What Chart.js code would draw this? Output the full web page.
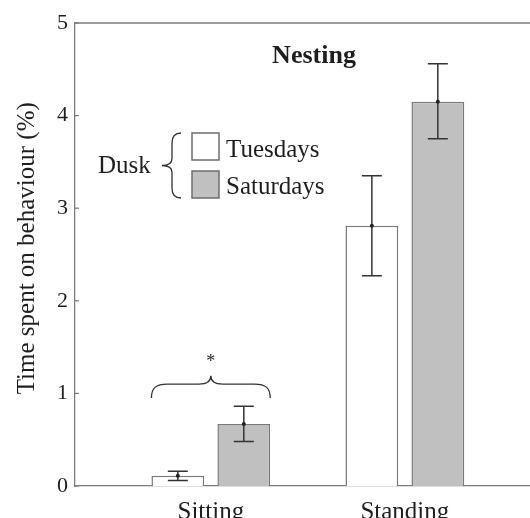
<!DOCTYPE html>
<html>
<head>
<meta charset="utf-8">
<script src="https://cdn.jsdelivr.net/npm/chart.js@4.4.1/dist/chart.umd.min.js"></script>
<style>
  html, body { margin: 0; padding: 0; background: #fff; overflow: hidden; }
  #chart { display: block; }
</style>
</head>
<body>
<canvas id="chart" width="530" height="518"></canvas>
<script>
// data
var categories = ['Sitting', 'Standing'];
var categoryPos = [1, 2];
var tuesdays = [0.11, 2.81];
var tuesdaysLo = [0.06, 2.27];
var tuesdaysHi = [0.16, 3.35];
var saturdays = [0.67, 4.15];
var saturdaysLo = [0.48, 3.75];
var saturdaysHi = [0.86, 4.56];
var yTicks = [0, 1, 2, 3, 4, 5];

var FONT = '"Liberation Serif", "Times New Roman", serif';
var AXIS_COLOR = '#7c7c7c';
var TEXT_COLOR = '#1e1e1e';

function toPoints(values) {
    return values.map(function (v, i) { return { x: categoryPos[i], y: v }; });
}

// error bars with caps and a dot at the mean
var errorBars = {
    id: 'errorBars',
    afterDatasetsDraw: function (chart) {
        var ctx = chart.ctx;
        var yScale = chart.scales.y;
        var ranges = [[tuesdaysLo, tuesdaysHi, tuesdays], [saturdaysLo, saturdaysHi, saturdays]];
        ctx.save();
        ctx.strokeStyle = '#333';
        ctx.fillStyle = '#222';
        ctx.lineWidth = 1.5;
        ranges.forEach(function (r, d) {
            var meta = chart.getDatasetMeta(d);
            meta.data.forEach(function (bar, i) {
                var x = bar.x;
                var yLo = yScale.getPixelForValue(r[0][i]);
                var yHi = yScale.getPixelForValue(r[1][i]);
                var yMean = yScale.getPixelForValue(r[2][i]);
                ctx.beginPath();
                ctx.moveTo(x, yLo); ctx.lineTo(x, yHi);
                ctx.moveTo(x - 10, yLo); ctx.lineTo(x + 10, yLo);
                ctx.moveTo(x - 10, yHi); ctx.lineTo(x + 10, yHi);
                ctx.stroke();
                ctx.beginPath();
                ctx.arc(x, yMean, 2, 0, Math.PI * 2);
                ctx.fill();
            });
        });
        ctx.restore();
    }
};

function hBrace(ctx, left, right, yEnd, yLine, yPeak) {
    var mid = (left + right) / 2;
    ctx.beginPath();
    ctx.moveTo(left, yEnd);
    ctx.bezierCurveTo(left, yLine + 4, left + 4, yLine, left + 16, yLine);
    ctx.lineTo(mid - 12, yLine);
    ctx.bezierCurveTo(mid - 4, yLine, mid, yLine - 3, mid, yPeak);
    ctx.bezierCurveTo(mid, yLine - 3, mid + 4, yLine, mid + 12, yLine);
    ctx.lineTo(right - 16, yLine);
    ctx.bezierCurveTo(right - 4, yLine, right, yLine + 4, right, yEnd);
    ctx.stroke();
}

function vBrace(ctx, xEnd, xLine, xTip, top, bottom) {
    var mid = (top + bottom) / 2;
    ctx.beginPath();
    ctx.moveTo(xEnd, top);
    ctx.bezierCurveTo(xLine + 3, top, xLine, top + 3, xLine, top + 10);
    ctx.lineTo(xLine, mid - 7);
    ctx.bezierCurveTo(xLine, mid - 2, xLine - 3, mid, xTip, mid);
    ctx.bezierCurveTo(xLine - 3, mid, xLine, mid + 2, xLine, mid + 7);
    ctx.lineTo(xLine, bottom - 10);
    ctx.bezierCurveTo(xLine, bottom - 3, xLine + 3, bottom, xEnd, bottom);
    ctx.stroke();
}

// title, legend, inward ticks, top frame line, significance brace
var annotations = {
    id: 'annotations',
    afterDraw: function (chart) {
        var ctx = chart.ctx;
        var area = chart.chartArea;
        var yScale = chart.scales.y;
        ctx.save();

        // top frame line
        ctx.strokeStyle = AXIS_COLOR;
        ctx.lineWidth = 1.3;
        ctx.beginPath();
        ctx.moveTo(area.left, area.top);
        ctx.lineTo(area.right, area.top);
        ctx.stroke();

        // short ticks pointing into the plot
        yTicks.forEach(function (v) {
            var y = yScale.getPixelForValue(v);
            ctx.beginPath();
            ctx.moveTo(area.left, y);
            ctx.lineTo(area.left + 4, y);
            ctx.stroke();
        });

        // panel title
        ctx.fillStyle = TEXT_COLOR;
        ctx.font = 'bold 26px ' + FONT;
        ctx.textAlign = 'center';
        ctx.textBaseline = 'alphabetic';
        ctx.fillText('Nesting', 314, 63);

        // legend
        ctx.font = '25px ' + FONT;
        ctx.textAlign = 'left';
        ctx.fillText('Dusk', 98, 173);
        ctx.fillText('Tuesdays', 226, 157);
        ctx.fillText('Saturdays', 226, 194);
        ctx.lineWidth = 1.5;
        ctx.strokeStyle = '#6e6e6e';
        ctx.fillStyle = '#ffffff';
        ctx.fillRect(192, 133, 27, 27);
        ctx.strokeRect(192, 133, 27, 27);
        ctx.fillStyle = '#c0c0c0';
        ctx.fillRect(192, 171, 27, 27);
        ctx.strokeRect(192, 171, 27, 27);
        ctx.strokeStyle = '#333';
        ctx.lineWidth = 1.3;
        vBrace(ctx, 181, 172, 162, 133, 198);

        // significance brace over the sitting pair
        var t = chart.getDatasetMeta(0).data[0];
        var s = chart.getDatasetMeta(1).data[0];
        var left = t.x - t.width / 2;
        var right = s.x + s.width / 2;
        hBrace(ctx, left, right, yScale.getPixelForValue(0.95),
            yScale.getPixelForValue(1.10), yScale.getPixelForValue(1.19));
        ctx.fillStyle = TEXT_COLOR;
        ctx.font = '18px ' + FONT;
        ctx.textAlign = 'center';
        ctx.textBaseline = 'middle';
        ctx.fillText('*', (left + right) / 2, yScale.getPixelForValue(1.34));

        ctx.restore();
    }
};

var ctx = document.getElementById('chart').getContext('2d');
var chart = new Chart(ctx, {
    type: 'bar',
    data: {
        datasets: [{
            label: 'Tuesdays',
            data: toPoints(tuesdays),
            backgroundColor: '#ffffff',
            borderColor: '#7a7a7a',
            borderWidth: 1.5
        }, {
            label: 'Saturdays',
            data: toPoints(saturdays),
            backgroundColor: '#c0c0c0',
            borderColor: '#7a7a7a',
            borderWidth: 1.5
        }]
    },
    options: {
        responsive: false,
        animation: false,
        categoryPercentage: 0.68,
        barPercentage: 0.8,
        layout: {
            padding: { top: 23, right: 0, bottom: 0, left: 0 }
        },
        plugins: {
            legend: { display: false },
            tooltip: { enabled: false }
        },
        scales: {
            x: {
                type: 'linear',
                offset: false,
                min: 0.3,
                max: 2.645,
                grid: { display: false, offset: false, drawTicks: false },
                border: { display: true, color: AXIS_COLOR, width: 1.3 },
                afterBuildTicks: function (scale) {
                    scale.ticks = categoryPos.map(function (v) { return { value: v }; });
                },
                afterFit: function (scale) { scale.height = 32; },
                ticks: {
                    autoSkip: false,
                    maxRotation: 0,
                    padding: 11,
                    color: TEXT_COLOR,
                    font: { family: FONT, size: 25 },
                    callback: function (v) { return categories[categoryPos.indexOf(v)]; }
                }
            },
            y: {
                min: 0,
                max: 5,
                grid: { display: false, drawTicks: false },
                border: { display: true, color: AXIS_COLOR, width: 1.3 },
                afterBuildTicks: function (scale) {
                    scale.ticks = yTicks.map(function (v) { return { value: v }; });
                },
                afterFit: function (scale) { scale.width = 75; },
                ticks: {
                    padding: 7,
                    color: TEXT_COLOR,
                    font: { family: FONT, size: 22 }
                },
                title: {
                    display: true,
                    text: '  Time spent on behaviour (%)',
                    color: TEXT_COLOR,
                    font: { family: FONT, size: 25 },
                    padding: { top: 12, bottom: 0 }
                }
            }
        }
    },
    plugins: [errorBars, annotations]
});
</script>
</body>
</html>
